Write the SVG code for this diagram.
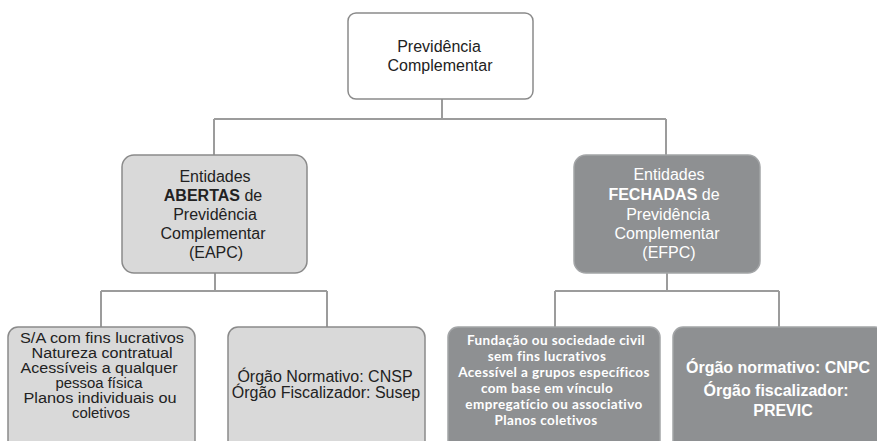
<svg xmlns="http://www.w3.org/2000/svg" width="877" height="441" viewBox="0 0 877 441">
<style>
.lt{fill:#d9d9d9;stroke:#8a8a8a;stroke-width:1.5}
.dk{fill:#8e9092;stroke:#a3a5a7;stroke-width:1.5}
.wt{fill:#ffffff;stroke:#8a8a8a;stroke-width:1.5}
.c{fill:none;stroke:#9c9c9c;stroke-width:2}
text{font-family:"Liberation Sans",Arial,sans-serif;font-size:16px;text-anchor:middle;fill:#222}
.w{fill:#ffffff}
.b{font-weight:bold}
.s{font-size:14px}
.cal{font-family:Lato,"Open Sans",sans-serif;font-weight:bold;font-size:13.5px;letter-spacing:0.4px;fill:#ffffff}
</style>
<rect width="877" height="441" fill="#ffffff"/>
<g id="connectors">
<path class="c" d="M442 99V119M214 119H666M214 119V155M666 119V155"/>
<path class="c" d="M215 273V291M101 291H327M101 291V327M327 291V327"/>
<path class="c" d="M667 273V291M555 291H779M555 291V327M779 291V327"/>
</g>
<g id="root">
<rect class="wt" x="348" y="13" width="185" height="86" rx="8"/>
<text x="439" y="52">Previdência</text>
<text x="440" y="71">Complementar</text>
</g>
<g id="eapc">
<rect class="lt" x="122" y="155" width="185" height="118" rx="12"/>
<text x="215" y="182">Entidades</text>
<text x="213" y="201"><tspan class="b">ABERTAS</tspan> de</text>
<text x="215" y="220">Previdência</text>
<text x="213" y="239">Complementar</text>
<text x="216" y="258">(EAPC)</text>
</g>
<g id="efpc">
<rect class="dk" x="574" y="155" width="186" height="118" rx="12"/>
<text class="w" x="669" y="180">Entidades</text>
<text class="w" x="664" y="200"><tspan class="b">FECHADAS</tspan> de</text>
<text class="w" x="668" y="220">Previdência</text>
<text class="w" x="667" y="239">Complementar</text>
<text class="w" x="669" y="258">(EFPC)</text>
</g>
<g id="eapc-caract">
<rect class="lt" x="8" y="327" width="187" height="130" rx="10"/>
<text class="s" x="102" y="343" textLength="164" lengthAdjust="spacingAndGlyphs">S/A com fins lucrativos</text>
<text class="s" x="102" y="358" textLength="141" lengthAdjust="spacingAndGlyphs">Natureza contratual</text>
<text class="s" x="99" y="373" textLength="157" lengthAdjust="spacingAndGlyphs">Acessíveis a qualquer</text>
<text class="s" x="99" y="388" textLength="87" lengthAdjust="spacingAndGlyphs">pessoa física</text>
<text class="s" x="100" y="403" textLength="153" lengthAdjust="spacingAndGlyphs">Planos individuais ou</text>
<text class="s" x="101" y="418" textLength="58" lengthAdjust="spacingAndGlyphs">coletivos</text>
</g>
<g id="eapc-orgaos">
<rect class="lt" x="228" y="327" width="197" height="130" rx="10"/>
<text x="325" y="382">Órgão Normativo: CNSP</text>
<text x="326" y="398">Órgão Fiscalizador: Susep</text>
</g>
<g id="efpc-caract">
<rect class="dk" x="448" y="327" width="212" height="130" rx="10"/>
<text class="cal" x="556" y="345">Fundação ou sociedade civil</text>
<text class="cal" x="547" y="361">sem fins lucrativos</text>
<text class="cal" x="554" y="377">Acessível a grupos específicos</text>
<text class="cal" x="547" y="393">com base em vínculo</text>
<text class="cal" x="554" y="409">empregatício ou associativo</text>
<text class="cal" x="546" y="425">Planos coletivos</text>
</g>
<g id="efpc-orgaos">
<rect class="dk" x="673" y="327" width="212" height="130" rx="10"/>
<text class="w b" x="778" y="373">Órgão normativo: CNPC</text>
<text class="w b" x="776" y="396">Órgão fiscalizador:</text>
<text class="w b" x="783" y="416">PREVIC</text>
</g>
</svg>
